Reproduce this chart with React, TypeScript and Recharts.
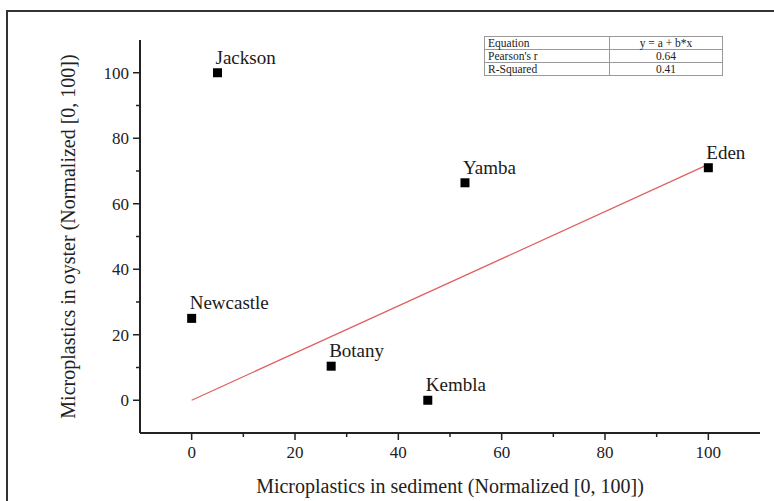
import { Scatter, ScatterChart, XAxis, YAxis } from "recharts";

const sites = ["Jackson", "Yamba", "Eden", "Newcastle", "Botany", "Kembla"];
const sediment = [5, 52.9, 100, 0, 27, 45.7];
const oyster = [100, 66.4, 71, 25, 10.4, 0];

const fitX = [0, 100];
const fitY = [0, 72];

const axisTicks = [0, 10, 20, 30, 40, 50, 60, 70, 80, 90, 100];

const statRows = [
  ["Equation", "y = a + b*x"],
  ["Pearson's r", "0.64"],
  ["R-Squared", "0.41"],
];

const points = sites.map((name, i) => ({ name, x: sediment[i], y: oyster[i] }));
const fitLine = fitX.map((x, i) => ({ x, y: fitY[i] }));

const serif = "Liberation Serif, DejaVu Serif, serif";
const ink = "#222";

function SitePoint(props: any) {
  const { cx, cy, payload } = props;
  return (
    <g>
      <rect x={cx - 4.5} y={cy - 4.5} width={9} height={9} fill="#000" />
      <text x={cx - 2} y={cy - 9} fontFamily={serif} fontSize={19} fill="#1a1a1a">
        {payload.name}
      </text>
    </g>
  );
}

function XTick(props: any) {
  const { x, y, payload } = props;
  const major = payload.value % 20 === 0;
  return (
    <g>
      <line x1={x} x2={x} y1={y} y2={y + (major ? 7 : 4)} stroke={ink} strokeWidth={1.5} />
      {major && (
        <text x={x} y={y + 25} textAnchor="middle" fontFamily={serif} fontSize={17} fill="#222">
          {payload.value}
        </text>
      )}
    </g>
  );
}

function YTick(props: any) {
  const { x, y, payload } = props;
  const major = payload.value % 20 === 0;
  return (
    <g>
      <line x1={x} x2={x - (major ? 7 : 4)} y1={y} y2={y} stroke={ink} strokeWidth={1.5} />
      {major && (
        <text x={x - 11} y={y + 6} textAnchor="end" fontFamily={serif} fontSize={17} fill="#222">
          {payload.value}
        </text>
      )}
    </g>
  );
}

export default function App() {
  return (
    <div
      style={{
        position: "absolute",
        left: 0,
        top: 0,
        width: 774,
        height: 501,
        overflow: "hidden",
        background: "#fff",
      }}
    >
      <div
        style={{
          position: "absolute",
          left: 6,
          top: 10,
          width: 820,
          height: 600,
          border: "2px solid #333",
        }}
      />
      <div style={{ position: "absolute", left: 0, top: 0 }}>
        <ScatterChart width={774} height={501} margin={{ top: 40, right: 14, left: 0, bottom: 0 }}>
          <XAxis
            type="number"
            dataKey="x"
            domain={[-10, 110]}
            ticks={axisTicks}
            height={68}
            tickSize={0}
            tickMargin={0}
            tickLine={false}
            tick={<XTick />}
            axisLine={{ stroke: ink, strokeWidth: 2 }}
            label={{
              value: "Microplastics in sediment (Normalized [0, 100])",
              position: "insideBottom",
              offset: 8,
              fontFamily: serif,
              fontSize: 20,
              fill: "#222",
            }}
          />
          <YAxis
            type="number"
            dataKey="y"
            domain={[-10, 110]}
            ticks={axisTicks}
            width={140}
            tickSize={0}
            tickMargin={0}
            tickLine={false}
            tick={<YTick />}
            axisLine={{ stroke: ink, strokeWidth: 2 }}
            label={{
              value: "Microplastics in oyster (Normalized [0, 100])",
              position: "insideLeft",
              angle: -90,
              offset: 68,
              style: { textAnchor: "middle" },
              fontFamily: serif,
              fontSize: 20,
              fill: "#222",
            }}
          />
          <Scatter
            data={fitLine}
            line={{ stroke: "#e06060", strokeWidth: 1.3 }}
            shape={() => null}
            isAnimationActive={false}
          />
          <Scatter data={points} shape={<SitePoint />} isAnimationActive={false} />
        </ScatterChart>
      </div>
      <table
        style={{
          position: "absolute",
          left: 484,
          top: 36,
          width: 239,
          borderCollapse: "collapse",
          border: "1.5px solid #777",
          fontFamily: serif,
          fontSize: 11.5,
          color: "#222",
          lineHeight: "12px",
        }}
      >
        <tbody>
          {statRows.map((row) => (
            <tr key={row[0]}>
              <td style={{ border: "1px solid #999", padding: "0 3px", width: 118 }}>{row[0]}</td>
              <td style={{ border: "1px solid #999", padding: "0 3px", textAlign: "center" }}>{row[1]}</td>
            </tr>
          ))}
        </tbody>
      </table>
    </div>
  );
}
